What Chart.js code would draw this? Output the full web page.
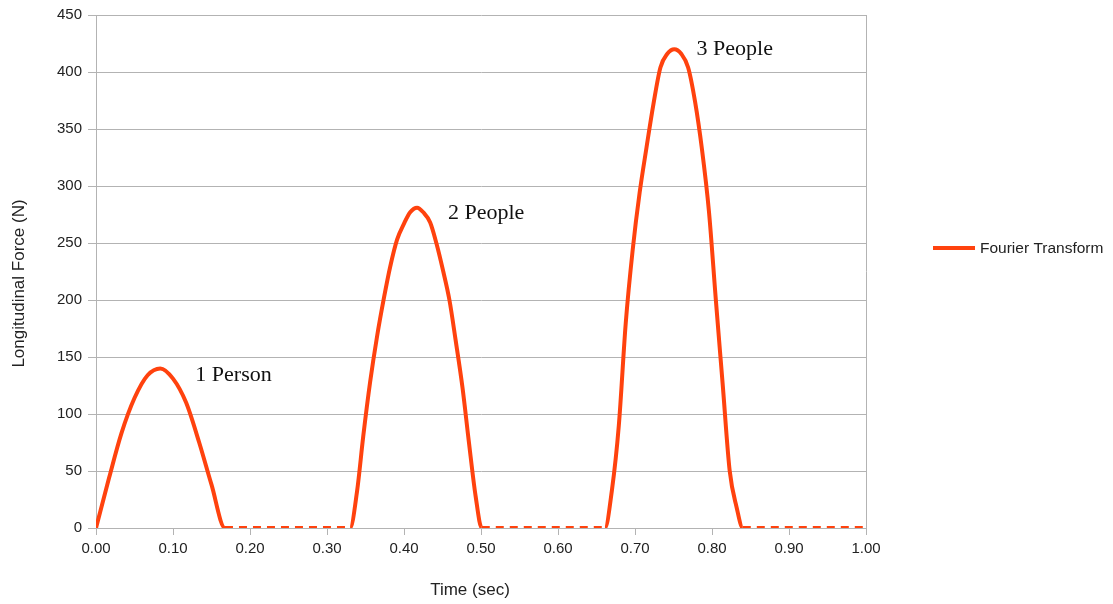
<!DOCTYPE html>
<html>
<head>
<meta charset="utf-8">
<title>Longitudinal Force</title>
<script src="https://cdn.jsdelivr.net/npm/chart.js@4/dist/chart.umd.min.js"></script>
<style>
  html, body { margin: 0; padding: 0; background: #fff; }
  canvas { display: block; }
</style>
</head>
<body>
<canvas id="chart-force" width="1113" height="604"></canvas>
<script>
/* Longitudinal force pulses for 1, 2 and 3 people (seconds vs newtons) */

const timeSec = [
  // 1 person
  0.000, 0.017, 0.033, 0.050, 0.067, 0.0835, 0.100, 0.117, 0.134, 0.150, 0.1675,
  0.20, 0.25, 0.30,
  // 2 people
  0.330, 0.339, 0.347, 0.356, 0.365, 0.374, 0.382, 0.391, 0.400, 0.408, 0.417,
  0.425, 0.434, 0.442, 0.451, 0.459, 0.467, 0.476, 0.484, 0.493, 0.501,
  0.55, 0.60,
  // 3 people
  0.661, 0.670, 0.679, 0.688, 0.697, 0.706, 0.715, 0.724, 0.733, 0.742, 0.751,
  0.760, 0.769, 0.778, 0.787, 0.796, 0.805, 0.814, 0.823, 0.832, 0.840,
  0.90, 1.00,
];
const forceN = [
  0, 44, 83, 114, 134, 140, 131, 110, 75, 38, 0,
  0, 0, 0,
  0, 32, 80, 128, 168, 202, 229, 253, 267, 277, 281,
  277, 268, 250, 225, 200, 165, 123, 77, 28, 0,
  0, 0,
  0, 33, 90, 180, 244, 294, 334, 372, 404, 416, 420,
  416, 404, 374, 332, 278, 200, 125, 50, 18, 0,
  0, 0,
];

const xTickValues = [0, 0.1, 0.2, 0.3, 0.4, 0.5, 0.6, 0.7, 0.8, 0.9, 1.0];
const xTickLabels = ["0.00", "0.10", "0.20", "0.30", "0.40", "0.50", "0.60", "0.70", "0.80", "0.90", "1.00"];
const yTickValues = [0, 50, 100, 150, 200, 250, 300, 350, 400, 450];

// text labels placed next to each pulse
const noteText = ["1 Person", "2 People", "3 People"];
const noteTime = [0.129, 0.457, 0.780];
const noteForce = [134, 276, 420];

const xTitle = "Time (sec)";
const yTitle = "Longitudinal Force (N)";

const LINE = "#ff420e";
const GRID = "#b3b3b3";
const TEXT = "#222222";
const SANS = "'Liberation Sans', Arial, sans-serif";

const points = timeSec.map((t, i) => ({ x: t, y: forceN[i] }));

// flat stretches at zero are drawn dashed
const flatDash = (c) => (c.p0.parsed.y === 0 && c.p1.parsed.y === 0 ? [8, 6] : undefined);

const pulseNotes = {
  id: "pulseNotes",
  afterDatasetsDraw(chart) {
    const { ctx, scales } = chart;
    ctx.save();
    ctx.font = "22px 'Liberation Serif', 'Times New Roman', serif";
    ctx.fillStyle = "#111";
    ctx.textAlign = "left";
    ctx.textBaseline = "middle";
    noteText.forEach((txt, i) => {
      ctx.fillText(txt, scales.x.getPixelForValue(noteTime[i]), scales.y.getPixelForValue(noteForce[i]));
    });
    ctx.restore();
  },
};

// axis titles, centred on the plot plus its tick labels
const axisTitles = {
  id: "axisTitles",
  afterDraw(chart) {
    const { ctx, chartArea } = chart;
    ctx.save();
    ctx.font = "17px " + SANS;
    ctx.fillStyle = TEXT;
    ctx.textAlign = "center";
    ctx.textBaseline = "middle";
    ctx.fillText(xTitle, (chartArea.left + chartArea.right) / 2 - 11, 590);
    ctx.translate(19, (chartArea.top + chartArea.bottom) / 2 + 12);
    ctx.rotate(-Math.PI / 2);
    ctx.fillText(yTitle, 0, 0);
    ctx.restore();
  },
};

// single-entry legend to the right of the plot
const sideLegend = {
  id: "sideLegend",
  afterDraw(chart) {
    const { ctx, chartArea } = chart;
    const ds = chart.data.datasets[0];
    const x0 = chartArea.right + 67;
    const y0 = chartArea.top + 233;
    ctx.save();
    ctx.strokeStyle = ds.borderColor;
    ctx.lineWidth = 4;
    ctx.beginPath();
    ctx.moveTo(x0, y0);
    ctx.lineTo(x0 + 42, y0);
    ctx.stroke();
    ctx.font = "15.5px " + SANS;
    ctx.fillStyle = TEXT;
    ctx.textBaseline = "middle";
    ctx.fillText(ds.label, x0 + 47, y0 + 1);
    ctx.restore();
  },
};

new Chart(document.getElementById("chart-force"), {
  type: "line",
  data: {
    datasets: [{
      label: "Fourier Transform",
      data: points,
      borderColor: LINE,
      backgroundColor: LINE,
      borderWidth: 4,
      pointRadius: 0,
      cubicInterpolationMode: "monotone",
      borderCapStyle: "butt",
      borderJoinStyle: "round",
      segment: { borderDash: flatDash },
    }],
  },
  options: {
    responsive: false,
    devicePixelRatio: 1,
    animation: false,
    layout: { padding: { left: 0, right: 247, top: 14, bottom: 0 } },
    plugins: { legend: { display: false }, tooltip: { enabled: false } },
    scales: {
      x: {
        type: "linear",
        min: 0,
        max: 1,
        afterBuildTicks: (s) => { s.ticks = xTickValues.map((v) => ({ value: v })); },
        afterFit: (s) => { s.height = 76; },
        ticks: {
          callback: (v, i) => xTickLabels[i],
          color: TEXT,
          font: { family: SANS, size: 15 },
          padding: 5,
          maxRotation: 0,
          autoSkip: false,
        },
        grid: {
          color: (c) => (c.tick && c.tick.value === 1 ? GRID : "transparent"),
          tickColor: GRID,
          tickLength: 7,
          lineWidth: 1,
        },
        border: { color: GRID },
      },
      y: {
        min: 0,
        max: 450,
        afterBuildTicks: (s) => { s.ticks = yTickValues.map((v) => ({ value: v })); },
        afterFit: (s) => { s.width = 96; },
        ticks: {
          color: TEXT,
          font: { family: SANS, size: 15 },
          padding: 6,
        },
        grid: { color: GRID, tickColor: GRID, tickLength: 8, lineWidth: 1 },
        border: { color: GRID },
      },
    },
  },
  plugins: [pulseNotes, axisTitles, sideLegend],
});
</script>
</body>
</html>
